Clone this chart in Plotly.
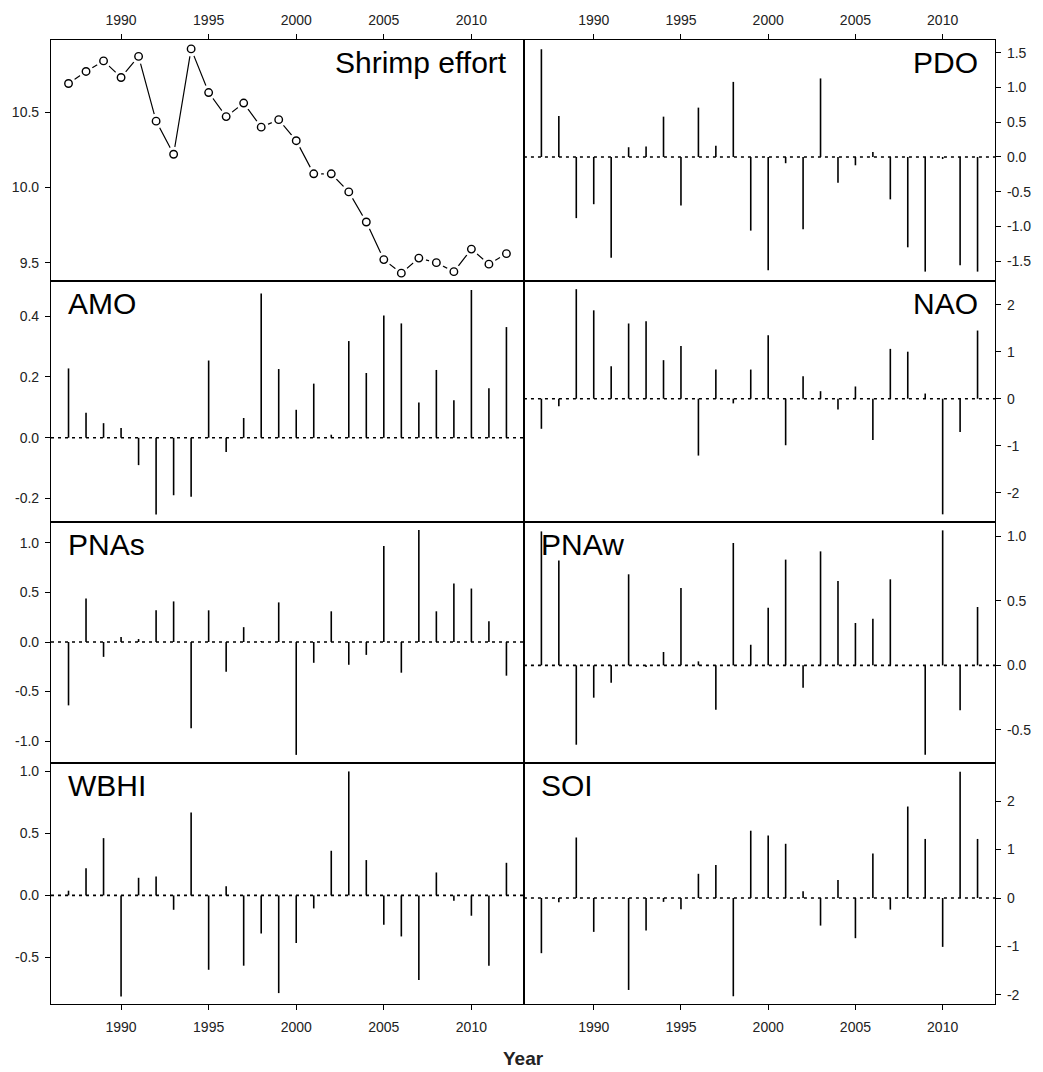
import plotly.graph_objects as go

# ---------------- data ----------------
years = list(range(1987, 2013))

shrimp_effort = [10.69, 10.77, 10.84, 10.73, 10.87, 10.44, 10.22, 10.92, 10.63, 10.47,
                 10.56, 10.40, 10.45, 10.31, 10.09, 10.09, 9.97, 9.77, 9.52, 9.43,
                 9.53, 9.50, 9.44, 9.59, 9.49, 9.56]

pdo = [1.55, 0.59, -0.88, -0.68, -1.45, 0.14, 0.15, 0.58, -0.70, 0.71,
       0.16, 1.08, -1.06, -1.63, -0.09, -1.04, 1.13, -0.37, -0.12, 0.07,
       -0.61, -1.30, -1.65, -0.03, -1.56, -1.65]

amo = [0.228, 0.082, 0.048, 0.032, -0.090, -0.252, -0.189, -0.194, 0.254, -0.047,
       0.065, 0.474, 0.226, 0.092, 0.178, 0.010, 0.318, 0.213, 0.402, 0.376,
       0.116, 0.223, 0.123, 0.486, 0.163, 0.364]

nao = [-0.64, -0.16, 2.33, 1.88, 0.69, 1.60, 1.65, 0.82, 1.12, -1.21,
       0.62, -0.10, 0.62, 1.35, -0.99, 0.48, 0.16, -0.23, 0.26, -0.88,
       1.06, 1.00, 0.11, -2.46, -0.71, 1.45]

pnas = [-0.64, 0.44, -0.15, 0.05, 0.03, 0.32, 0.41, -0.87, 0.32, -0.30,
        0.15, 0.01, 0.40, -1.14, -0.21, 0.31, -0.23, -0.13, 0.97, -0.31,
        1.13, 0.31, 0.59, 0.54, 0.21, -0.34]

pnaw = [1.04, 0.815, -0.616, -0.251, -0.135, 0.707, -0.013, 0.104, 0.60, 0.031,
        -0.344, 0.95, 0.16, 0.448, 0.821, -0.173, 0.885, 0.655, 0.329, 0.362,
        0.668, 0.0, -0.694, 1.048, -0.349, 0.453]

wbhi = [0.038, 0.22, 0.462, -0.815, 0.142, 0.153, -0.116, 0.669, -0.60, 0.073,
        -0.567, -0.307, -0.788, -0.384, -0.105, 0.36, 1.0, 0.285, -0.237, -0.331,
        -0.683, 0.185, -0.043, -0.164, -0.567, 0.263]

soi = [-1.14, -0.09, 1.25, -0.70, 0.0, -1.90, -0.67, -0.08, -0.23, 0.50,
       0.68, -2.03, 1.39, 1.29, 1.12, 0.14, -0.57, 0.37, -0.83, 0.92,
       -0.24, 1.89, 1.22, -1.01, 2.61, 1.22]

year_ticks = [1990, 1995, 2000, 2005, 2010]
shrimp_ticks = [9.5, 10.0, 10.5]
pdo_ticks = [-1.5, -1.0, -0.5, 0.0, 0.5, 1.0, 1.5]
amo_ticks = [-0.2, 0.0, 0.2, 0.4]
nao_ticks = [-2, -1, 0, 1, 2]
pnas_ticks = [-1.0, -0.5, 0.0, 0.5, 1.0]
pnaw_ticks = [-0.5, 0.0, 0.5, 1.0]
wbhi_ticks = [-0.5, 0.0, 0.5, 1.0]
soi_ticks = [-2, -1, 0, 1, 2]

# ---------------- layout / style ----------------
FONT = "Liberation Sans, Arial, sans-serif"
W, H = 1043, 1072
ML, MR, MT, MB = 51, 46, 35, 68
XRANGE = [1986, 2013]
XSPLIT = 0.501

# (label, values, ticks, decimals, y-range, row, col, label side)
panels = [
    ("Shrimp effort", shrimp_effort, shrimp_ticks, 1, [9.378, 10.979], 0, 0, "right"),
    ("PDO", pdo, pdo_ticks, 1, [-1.785, 1.683], 0, 1, "right"),
    ("AMO", amo, amo_ticks, 1, [-0.277, 0.5155], 1, 0, "left"),
    ("NAO", nao, nao_ticks, 0, [-2.623, 2.504], 1, 1, "right"),
    ("PNAs", pnas, pnas_ticks, 1, [-1.222, 1.212], 2, 0, "left"),
    ("PNAw", pnaw, pnaw_ticks, 1, [-0.758, 1.113], 2, 1, "left"),
    ("WBHI", wbhi, wbhi_ticks, 1, [-0.876, 1.068], 3, 0, "left"),
    ("SOI", soi, soi_ticks, 0, [-2.19, 2.789], 3, 1, "left"),
]

fig = go.Figure()
layout = dict(
    width=W, height=H,
    margin=dict(l=ML, r=MR, t=MT, b=MB, pad=0),
    paper_bgcolor="white", plot_bgcolor="white",
    showlegend=False,
    font=dict(family=FONT, size=14, color="#222"),
)
annotations = []
shapes = []

for i, (label, vals, ticks, dec, yr, row, col, lside) in enumerate(panels, start=1):
    xa = "x" if i == 1 else f"x{i}"
    ya = "y" if i == 1 else f"y{i}"
    xdom = [0, XSPLIT] if col == 0 else [XSPLIT, 1]
    ydom = [1 - (row + 1) * 0.25, 1 - row * 0.25]

    show_x = row in (0, 3)
    xaxis = dict(
        domain=xdom, anchor=ya, range=XRANGE,
        showline=True, mirror=True, linecolor="black", linewidth=1.2,
        showgrid=False, zeroline=False,
        tickvals=year_ticks, ticktext=[str(t) for t in year_ticks],
        ticks="outside" if show_x else "", ticklen=5, tickwidth=1, tickcolor="black",
        showticklabels=show_x,
        side="top" if row == 0 else "bottom",
        tickfont=dict(family=FONT, size=14, color="#222"),
        ticklabelstandoff=3 if row == 0 else 5,
        fixedrange=True,
    )
    ticktext = [f"{t:.{dec}f}" for t in ticks]
    yaxis = dict(
        domain=ydom, anchor=xa, range=yr,
        showline=True, mirror=True, linecolor="black", linewidth=1.2,
        showgrid=False, zeroline=False,
        tickvals=ticks, ticktext=ticktext,
        ticks="outside", ticklen=5, tickwidth=1, tickcolor="black",
        side="left" if col == 0 else "right",
        tickfont=dict(family=FONT, size=14, color="#222"),
        ticklabelstandoff=3,
        fixedrange=True,
    )
    layout["xaxis" if i == 1 else f"xaxis{i}"] = xaxis
    layout["yaxis" if i == 1 else f"yaxis{i}"] = yaxis

    if i == 1:
        # R type="b": line with gaps around open circles
        fig.add_trace(go.Scatter(x=years, y=vals, mode="lines", xaxis=xa, yaxis=ya,
                                 line=dict(color="black", width=1.2), hoverinfo="skip"))
        fig.add_trace(go.Scatter(x=years, y=vals, mode="markers", xaxis=xa, yaxis=ya,
                                 marker=dict(symbol="circle", size=15, color="white",
                                             line=dict(width=0)), hoverinfo="skip"))
        fig.add_trace(go.Scatter(x=years, y=vals, mode="markers", xaxis=xa, yaxis=ya,
                                 marker=dict(symbol="circle", size=7.5, color="white",
                                             line=dict(color="black", width=1.4))))
    else:
        # dotted zero reference line
        shapes.append(dict(type="line", xref=f"{xa} domain", yref=ya,
                           x0=0, x1=1, y0=0, y1=0,
                           line=dict(color="black", width=1.6, dash="3px,4px"),
                           layer="below"))
        xs, ys = [], []
        for yv, v in zip(years, vals):
            xs += [yv, yv, None]
            ys += [0, v, None]
        fig.add_trace(go.Scatter(x=xs, y=ys, mode="lines", xaxis=xa, yaxis=ya,
                                 line=dict(color="black", width=1.6), hoverinfo="skip"))

    if lside == "left":
        annotations.append(dict(text=label, xref=f"{xa} domain", yref=f"{ya} domain",
                                x=0, y=1, xanchor="left", yanchor="top",
                                xshift=15, yshift=-4, showarrow=False,
                                font=dict(family=FONT, size=30, color="black")))
    else:
        annotations.append(dict(text=label, xref=f"{xa} domain", yref=f"{ya} domain",
                                x=1, y=1, xanchor="right", yanchor="top",
                                xshift=-15, yshift=-4, showarrow=False,
                                font=dict(family=FONT, size=30, color="black")))

annotations.append(dict(text="<b>Year</b>", xref="paper", yref="paper",
                        x=0.5, y=0, xanchor="center", yanchor="middle",
                        yshift=-54, showarrow=False,
                        font=dict(family=FONT, size=19, color="#222")))

layout["annotations"] = annotations
layout["shapes"] = shapes
fig.update_layout(**layout)

fig.write_html("out.html")
